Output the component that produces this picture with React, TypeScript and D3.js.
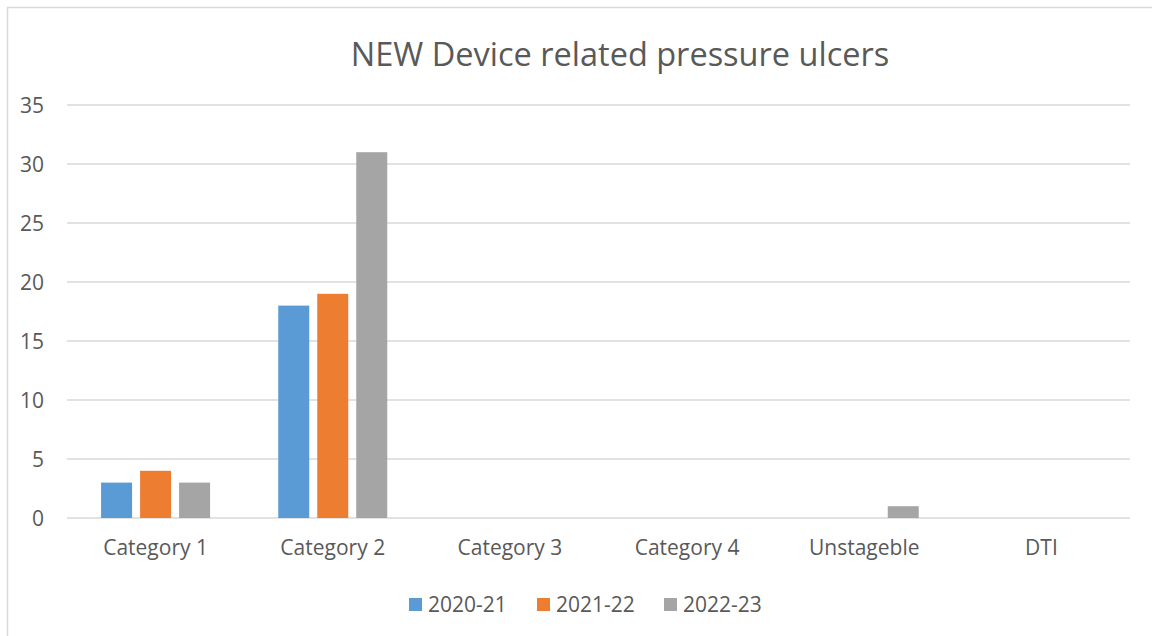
import React from "react";
import * as d3 from "d3";

const categories = ["Category 1", "Category 2", "Category 3", "Category 4", "Unstageble", "DTI"];
const seriesNames = ["2020-21", "2021-22", "2022-23"];
const values2020 = [3, 18, 0, 0, 0, 0];
const values2021 = [4, 19, 0, 0, 0, 0];
const values2022 = [3, 31, 0, 0, 1, 0];
const yTicks = [0, 5, 10, 15, 20, 25, 30, 35];
const colors = ["#5B9BD5", "#ED7D31", "#A5A5A5"];

const W = 1152;
const H = 636;
const FONT = "'Open Sans', Lato, sans-serif";
const TEXT = "#595959";

export default function App() {
  const seriesValues = [values2020, values2021, values2022];
  const left = 67, right = 1130, top = 105, bottom = 518;
  const x0 = d3.scaleBand<string>().domain(categories).range([left, right]).paddingInner(0).paddingOuter(0);
  const groupW = 109;
  const x1 = d3.scaleBand<string>().domain(seriesNames).range([0, groupW]).paddingInner(0.205).paddingOuter(0);
  const y = d3.scaleLinear().domain([0, 35]).range([bottom, top]);

  const legendX = [409, 537, 664];

  return (
    <svg width={W} height={H} style={{ position: "absolute", left: 0, top: 0, background: "#fff" }} fontFamily={FONT}>
      <rect x={0} y={0} width={W} height={H} fill="#fff" />
      <rect x={7.5} y={7.5} width={W + 20} height={H + 20} fill="none" stroke="#D9D9D9" strokeWidth={1.5} />
      <text x={620} y={66} textAnchor="middle" fontSize={32.5} fill={TEXT}>NEW Device related pressure ulcers</text>
      {yTicks.map((t) => (
        <g key={t}>
          <line x1={left} x2={right} y1={y(t)} y2={y(t)} stroke="#D9D9D9" strokeWidth={1.5} />
          <text x={44} y={y(t)} dy="0.36em" textAnchor="end" fontSize={21} fill={TEXT}>{t}</text>
        </g>
      ))}
      {categories.map((c, ci) => {
        const gx = (x0(c) as number) + (x0.bandwidth() - groupW) / 2;
        return (
          <g key={c}>
            {seriesNames.map((s, si) => {
              const v = seriesValues[si][ci];
              if (!v) return null;
              return (
                <rect key={s} x={gx + (x1(s) as number)} y={y(v)} width={x1.bandwidth()} height={y(0) - y(v)} fill={colors[si]} />
              );
            })}
            <text x={(x0(c) as number) + x0.bandwidth() / 2} y={555} textAnchor="middle" fontSize={21} fill={TEXT}>{c}</text>
          </g>
        );
      })}
      {seriesNames.map((s, si) => (
        <g key={s}>
          <rect x={legendX[si]} y={598} width={13} height={13} fill={colors[si]} />
          <text x={legendX[si] + 19} y={612} fontSize={21} fill={TEXT}>{s}</text>
        </g>
      ))}
    </svg>
  );
}
